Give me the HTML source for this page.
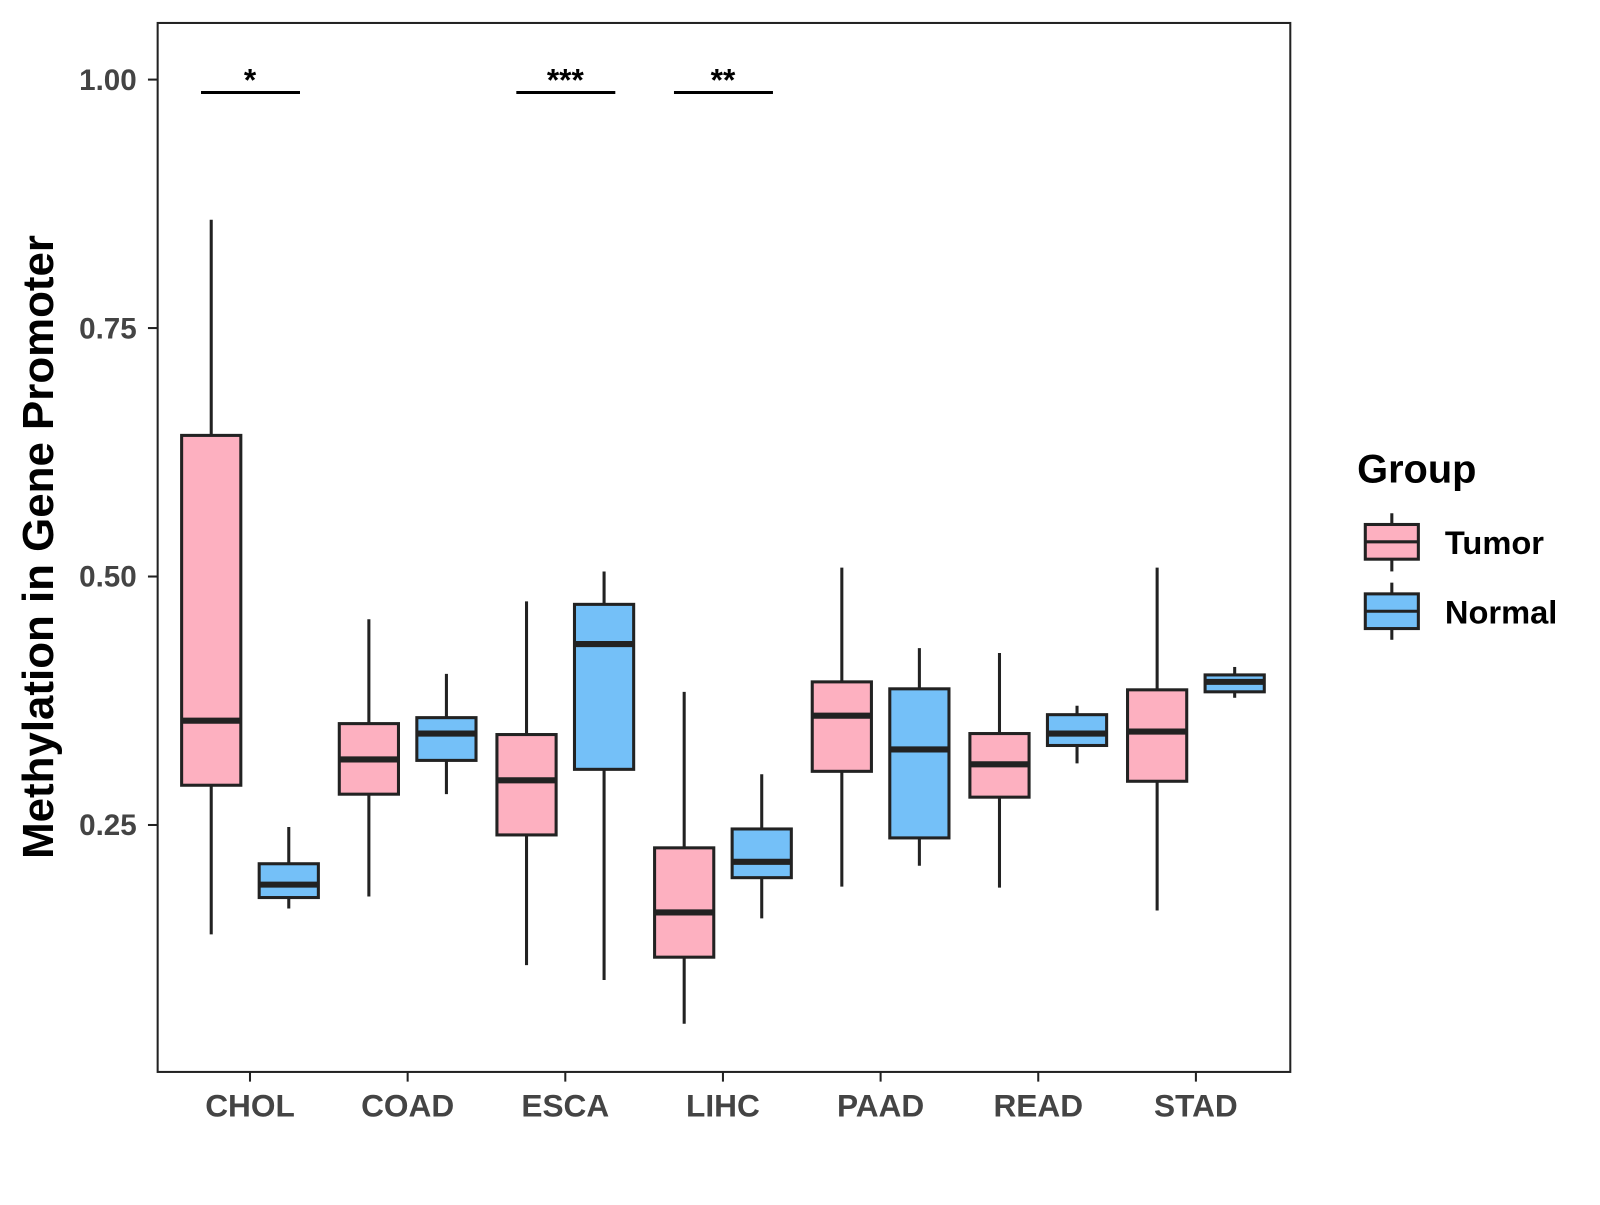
<!DOCTYPE html>
<html><head><meta charset="utf-8"><style>
body{margin:0;background:#fff}
svg text{font-family:"Liberation Sans",Arial,sans-serif;font-weight:bold}
</style></head><body>
<svg id="chart" width="1600" height="1200" xmlns="http://www.w3.org/2000/svg">
<rect x="0" y="0" width="1600" height="1200" fill="#fff"/>
<g transform="scale(1.0204)">
<rect x="154.5" y="22.5" width="1110" height="1028" fill="none" stroke="#222" stroke-width="2"/>
<g id="marks"></g>
<text transform="translate(52,536) rotate(-90)" text-anchor="middle" font-size="43" fill="#000">Methylation in Gene Promoter</text>
<g>
<text x="1330" y="473" font-size="39" fill="#000">Group</text>
<line x1="1364" y1="503" x2="1364" y2="560" stroke="#222" stroke-width="3"/>
<rect x="1338" y="514" width="52" height="34" fill="#FDB0C0" stroke="#222" stroke-width="3"/>
<line x1="1338" y1="531" x2="1390" y2="531" stroke="#222" stroke-width="3"/>
<text x="1416" y="543" font-size="32" fill="#000">Tumor</text>
<line x1="1364" y1="571" x2="1364" y2="627" stroke="#222" stroke-width="3"/>
<rect x="1338" y="582" width="52" height="34" fill="#74C0F8" stroke="#222" stroke-width="3"/>
<line x1="1338" y1="599" x2="1390" y2="599" stroke="#222" stroke-width="3"/>
<text x="1416" y="611" font-size="32" fill="#000">Normal</text>
</g>
</g>
</svg>
<script>
const categories=["CHOL","COAD","ESCA","LIHC","PAAD","READ","STAD"];
// [low, q1, median, q3, high]
const tumor=[[0.140,0.290,0.355,0.642,0.859],[0.178,0.281,0.316,0.352,0.457],[0.109,0.240,0.295,0.341,0.475],[0.050,0.117,0.162,0.227,0.384],[0.188,0.304,0.360,0.394,0.509],[0.187,0.278,0.311,0.342,0.423],[0.164,0.294,0.344,0.386,0.509]];
const normal=[[0.166,0.177,0.190,0.211,0.248],[0.281,0.315,0.342,0.358,0.402],[0.094,0.306,0.432,0.472,0.505],[0.156,0.197,0.213,0.246,0.301],[0.209,0.237,0.326,0.387,0.428],[0.312,0.330,0.342,0.361,0.370],[0.378,0.384,0.394,0.401,0.409]];
const yTicks=[0.25,0.50,0.75,1.00];
const yTickLabels=["0.25","0.50","0.75","1.00"];
const sigCats=["CHOL","ESCA","LIHC"];
const sigLabels=["*","***","**"];
const sigLevel=0.987;

const NS="http://www.w3.org/2000/svg";
const svg=document.getElementById('marks');
function y(v){return 78+(1-v)*974;}
function x(i){return 245+i*154.5;}
function mk(tag,attrs){const e=document.createElementNS(NS,tag);for(const k in attrs)e.setAttribute(k,attrs[k]);svg.appendChild(e);return e;}
yTicks.forEach((t,i)=>{
  const l=mk('line',{x1:145,x2:154,y1:y(t),y2:y(t),stroke:'#222','stroke-width':2});
  
  
  const tx=mk('text',{x:134,y:y(t)+10,'text-anchor':'end','font-size':29,fill:'#444'});
  tx.textContent=yTickLabels[i];
  
  
});
categories.forEach((c,i)=>{
  const l=mk('line',{x1:x(i),x2:x(i),y1:1051,y2:1060,stroke:'#222','stroke-width':2});
  
  
  const tx=mk('text',{x:x(i),y:1094,'text-anchor':'middle','font-size':31,fill:'#444'});
  tx.textContent=c;
  
  
});
function box(cx,d,fill,name){
  const w=29;
  const wl=mk('line',{x1:cx,x2:cx,y1:y(d[4]),y2:y(d[0]),stroke:'#222','stroke-width':3});
  
  
  const r=mk('rect',{x:cx-w,y:y(d[3]),width:2*w,height:y(d[1])-y(d[3]),fill:fill,stroke:'#222','stroke-width':3});
  
  
  const m=mk('line',{x1:cx-w,x2:cx+w,y1:y(d[2]),y2:y(d[2]),stroke:'#222','stroke-width':6});
  
  
}
categories.forEach((c,i)=>{
  box(x(i)-38,tumor[i],'#FDB0C0',c.toLowerCase()+'-tumor');
  box(x(i)+38,normal[i],'#74C0F8',c.toLowerCase()+'-normal');
});
sigCats.forEach((c,k)=>{
  const i=categories.indexOf(c);
  const l=mk('line',{x1:x(i)-48,x2:x(i)+49,y1:y(sigLevel),y2:y(sigLevel),stroke:'#000','stroke-width':3});
  
  
  const t=mk('text',{x:x(i),y:y(sigLevel)-2,'text-anchor':'middle','font-size':31,fill:'#000'});
  t.textContent=sigLabels[k];
  
  
});
</script>
</body></html>
